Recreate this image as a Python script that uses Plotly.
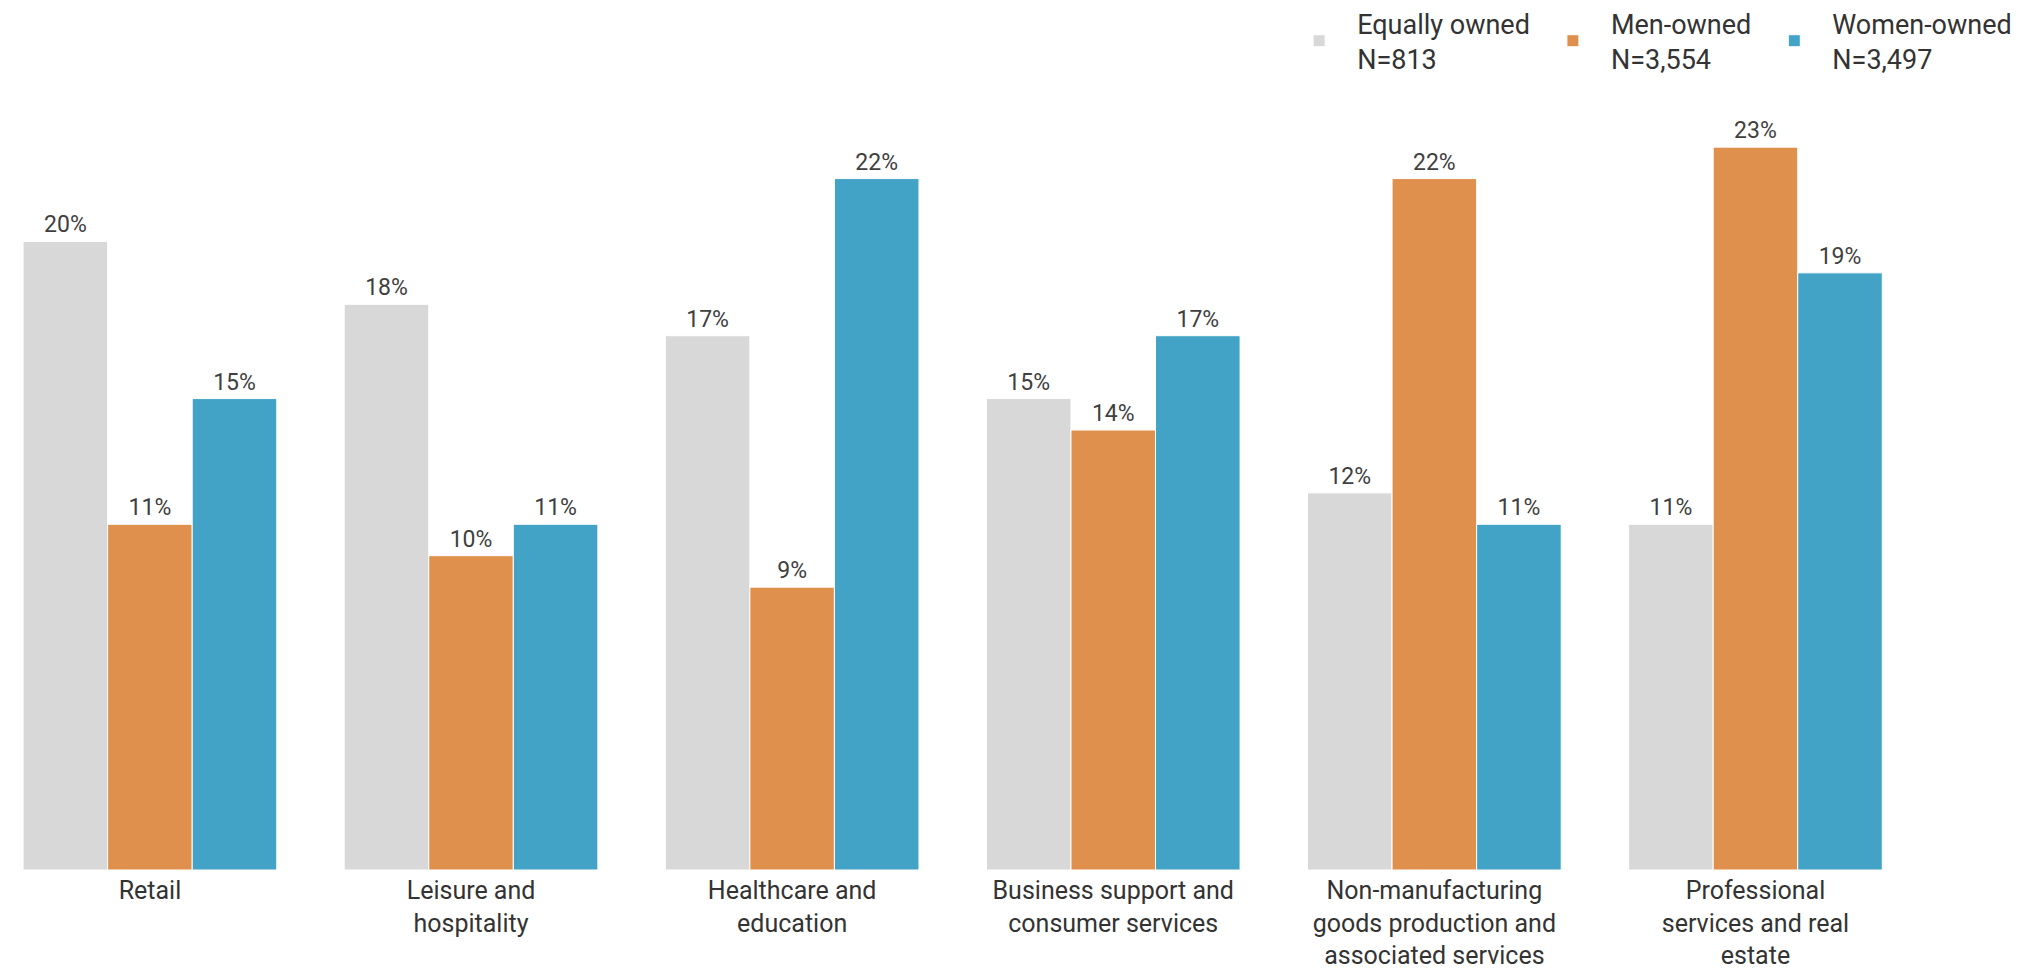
import plotly.graph_objects as go

categories = [
    "Retail",
    "Leisure and<br>hospitality",
    "Healthcare and<br>education",
    "Business support and<br>consumer services",
    "Non-manufacturing<br>goods production and<br>associated services",
    "Professional<br>services and real<br>estate",
]
series_names = ["Equally owned<br>N=813", "Men-owned<br>N=3,554", "Women-owned<br>N=3,497"]
equally_owned = [20, 18, 17, 15, 12, 11]
men_owned = [11, 10, 9, 14, 22, 23]
women_owned = [15, 11, 22, 17, 11, 19]
colors = ["#d8d8d8", "#de904c", "#42a3c6"]

fig = go.Figure()
for name, vals, col in zip(series_names, [equally_owned, men_owned, women_owned], colors):
    fig.add_trace(go.Bar(
        x=list(range(len(categories))), y=vals, name=name,
        marker=dict(color=col, line=dict(color="white", width=1)),
        text=[f"{v}%" for v in vals], textposition="outside",
        textfont=dict(family="Roboto", size=23, color="#404040"),
        cliponaxis=False,
    ))

fig.update_layout(
    width=2037, height=972,
    barmode="group", bargap=0.21, bargroupgap=0,
    plot_bgcolor="white", paper_bgcolor="white",
    margin=dict(l=0, r=120, t=92, b=110, autoexpand=False),
    font=dict(family="Roboto", size=25, color="#333333"),
    xaxis=dict(tickmode="array", tickvals=list(range(len(categories))), ticktext=categories,
               range=[-0.442, 5.528], showgrid=False, zeroline=False, showline=False,
               tickangle=0, automargin=False,
               ticks="", ticklabelstandoff=3, tickfont=dict(size=25, color="#333333")),
    yaxis=dict(range=[0, 24.5], visible=False, automargin=False),
    showlegend=True,
    legend=dict(orientation="h", xref="container", yref="paper", x=0.625, y=1.131,
                xanchor="left", yanchor="top", font=dict(size=27, color="#333333"),
                itemwidth=66, traceorder="normal"),
)

fig.write_html("out.html")
